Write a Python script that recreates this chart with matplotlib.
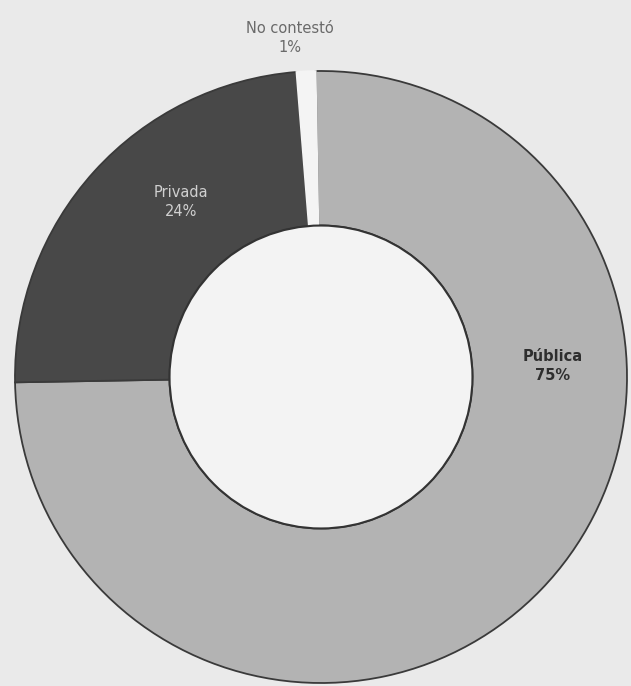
import matplotlib.pyplot as plt

### Data
labels = ['Pública', 'Privada', 'No contestó']
values = [75, 24, 1]
colors = ['#b3b3b3', '#484848', '#f4f4f4']

### Figure 631x686 px
fig = plt.figure(figsize=(6.31, 6.86), dpi=100)
fig.patch.set_facecolor('#eaeaea')
ax = fig.add_axes([0, 0, 1, 1])
ax.set_facecolor('#eaeaea')

# centre of the ring in pixels, radius in pixels
cx, cy, r = 321, 377, 306
W, H = 631, 686

wedges, _ = ax.pie(values, colors=colors, startangle=91, counterclock=False,
                   radius=1, wedgeprops=dict(width=0.505, edgecolor='#3a3a3a', linewidth=1.3))
wedges[2].set_edgecolor('#f4f4f4')
# hole
hole = plt.Circle((0, 0), 0.495, facecolor='#f3f3f3', edgecolor='#333333', linewidth=1.5, zorder=3)
ax.add_patch(hole)

ax.set_xlim(-cx / r, (W - cx) / r)
ax.set_ylim((cy - H) / r, cy / r)
ax.set_aspect('auto')
ax.axis('off')

def px(x, y):
    return ((x - cx) / r, (cy - y) / r)

ax.text(*px(290, 38), 'No contestó\n1%', ha='center', va='center', fontsize=10.5,
        color='#6a6a6a', linespacing=1.3)
ax.text(*px(181, 202), 'Privada\n24%', ha='center', va='center', fontsize=10.5,
        color='#d0d0d0', linespacing=1.4)
ax.text(*px(553, 366), 'Pública\n75%', ha='center', va='center', fontsize=10.5,
        color='#2e2e2e', fontweight='bold', linespacing=1.4)

plt.savefig('out.png', dpi=100, facecolor=fig.get_facecolor())
